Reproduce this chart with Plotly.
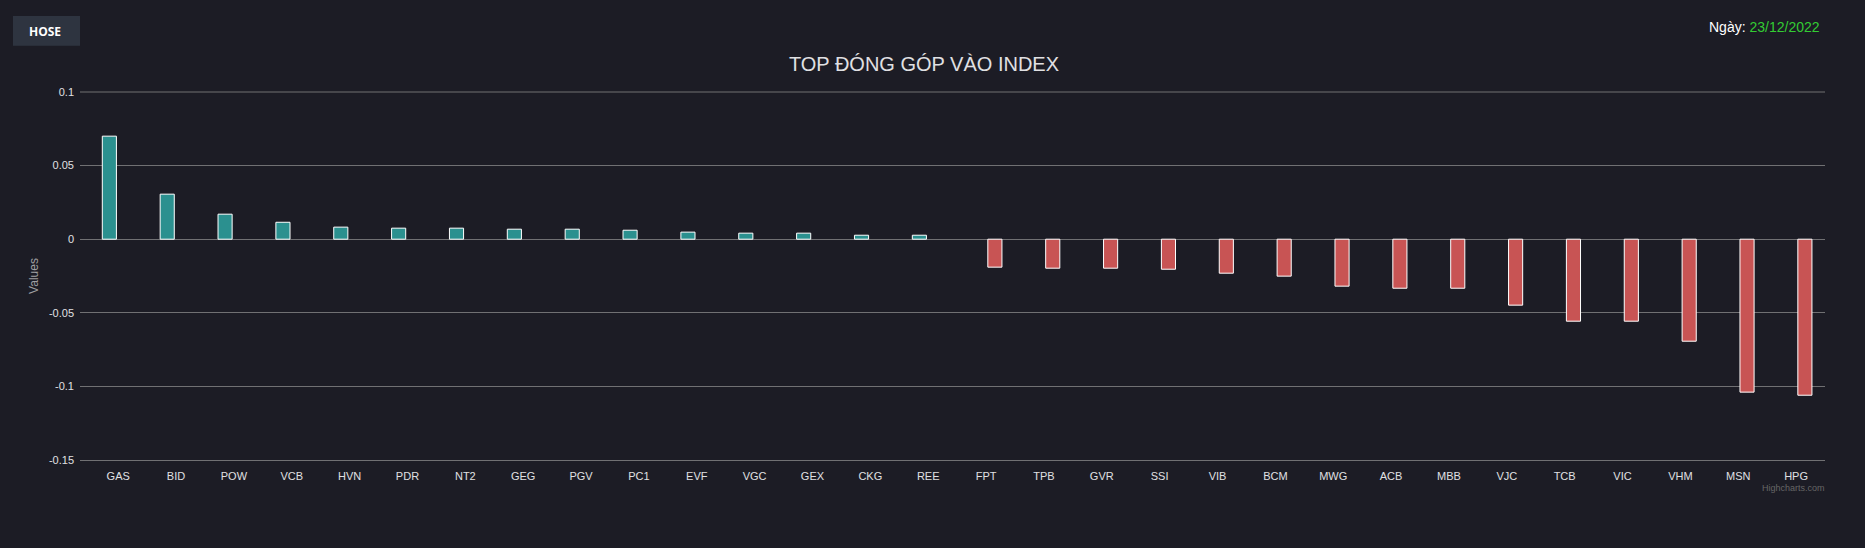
import plotly.graph_objects as go

# ---- data ----
categories = ["GAS", "BID", "POW", "VCB", "HVN", "PDR", "NT2", "GEG", "PGV", "PC1",
              "EVF", "VGC", "GEX", "CKG", "REE", "FPT", "TPB", "GVR", "SSI", "VIB",
              "BCM", "MWG", "ACB", "MBB", "VJC", "TCB", "VIC", "VHM", "MSN", "HPG"]
positive_values = [0.0700, 0.0306, 0.0170, 0.0115, 0.0082, 0.0075, 0.0075, 0.0068, 0.0068, 0.0061,
                   0.0048, 0.0041, 0.0041, 0.0027, 0.0027,
                   None, None, None, None, None, None, None, None, None, None, None, None, None, None, None]
negative_values = [None] * 15 + [-0.0190, -0.0197, -0.0197, -0.0204, -0.0231, -0.0251, -0.0319, -0.0333,
                                 -0.0333, -0.0448, -0.0557, -0.0557, -0.0693, -0.1039, -0.1060]
y_tickvals = [0.1, 0.05, 0, -0.05, -0.1, -0.15]
y_ticktext = ["0.1", "0.05", "0", "-0.05", "-0.1", "-0.15"]

# ---- layout geometry (pixels) ----
W, H = 1865, 548
L, R, T, B = 80, 40, 92, 88
PW, PH = W - L - R, H - T - B


def px_x(x):
    return (x - L) / PW


def px_y(y):
    return (H - B - y) / PH


BG = "#1c1c25"
GRID = "#707073"
TXT = "#e0e0e3"
FONT = "Liberation Sans, Arial, sans-serif"

fig = go.Figure()
fig.add_trace(go.Bar(x=categories, y=positive_values, name="Tăng",
                     marker=dict(color="#2b908f", line=dict(color="#ffffff", width=1))))
fig.add_trace(go.Bar(x=categories, y=negative_values, name="Giảm",
                     marker=dict(color="#c85454", line=dict(color="#ffffff", width=1))))

fig.update_layout(
    width=W, height=H,
    margin=dict(l=L, r=R, t=T, b=B, pad=0),
    paper_bgcolor=BG, plot_bgcolor=BG,
    barmode="group", bargap=0.39, bargroupgap=0.2,
    showlegend=False,
    font=dict(family=FONT, color=TXT, size=11),
    title=dict(text="TOP ĐÓNG GÓP VÀO INDEX", x=924 / W, xanchor="center",
               y=1 - 63.5 / H, yanchor="middle", yref="container",
               font=dict(size=20, color=TXT, family=FONT)),
    xaxis=dict(type="category", range=[-0.66, 29.5], showgrid=False, zeroline=False,
               showline=True, linecolor=GRID, linewidth=1, ticks="",
               tickfont=dict(size=11, color=TXT), ticklabelstandoff=6, fixedrange=True),
    yaxis=dict(range=[-0.15, 0.1], tickvals=y_tickvals, ticktext=y_ticktext,
               showgrid=True, gridcolor=GRID, gridwidth=1,
               zeroline=True, zerolinecolor=GRID, zerolinewidth=1,
               showline=False, ticks="", ticklabelstandoff=5,
               tickfont=dict(size=11, color=TXT),
               title=dict(text="Values", font=dict(size=12, color="#a0a0a3"), standoff=7),
               fixedrange=True),
    shapes=[
        dict(type="rect", xref="paper", yref="paper",
             x0=px_x(13), x1=px_x(80), y0=px_y(45.7), y1=px_y(16),
             fillcolor="#2e3440", line=dict(width=0), layer="below"),
        dict(type="line", xref="paper", yref="paper", x0=0, x1=1,
             y0=1, y1=1, line=dict(color=GRID, width=1)),
    ],
    annotations=[
        dict(text="<b>HOSE</b>", xref="paper", yref="paper", x=px_x(44.5), y=px_y(31),
             xanchor="center", yanchor="middle", showarrow=False,
             font=dict(size=12, color="#ffffff", family="Open Sans, Arial, sans-serif")),
        dict(text="Ngày: <span style='color:#33cc33'>23/12/2022</span>",
             xref="paper", yref="paper", x=px_x(1822), y=px_y(27),
             xanchor="right", yanchor="middle", showarrow=False,
             font=dict(size=14, color="#ffffff", family=FONT)),
        dict(text="Highcharts.com", xref="paper", yref="paper", x=px_x(1827), y=px_y(487.5),
             xanchor="right", yanchor="middle", showarrow=False,
             font=dict(size=9, color="#666666", family=FONT)),
    ],
)

fig.write_html(
    "out.html",
    config={"displayModeBar": False},
    post_script="document.body.style.margin='0';document.body.style.overflow='hidden';"
                "document.body.style.background='#1c1c25';",
)
